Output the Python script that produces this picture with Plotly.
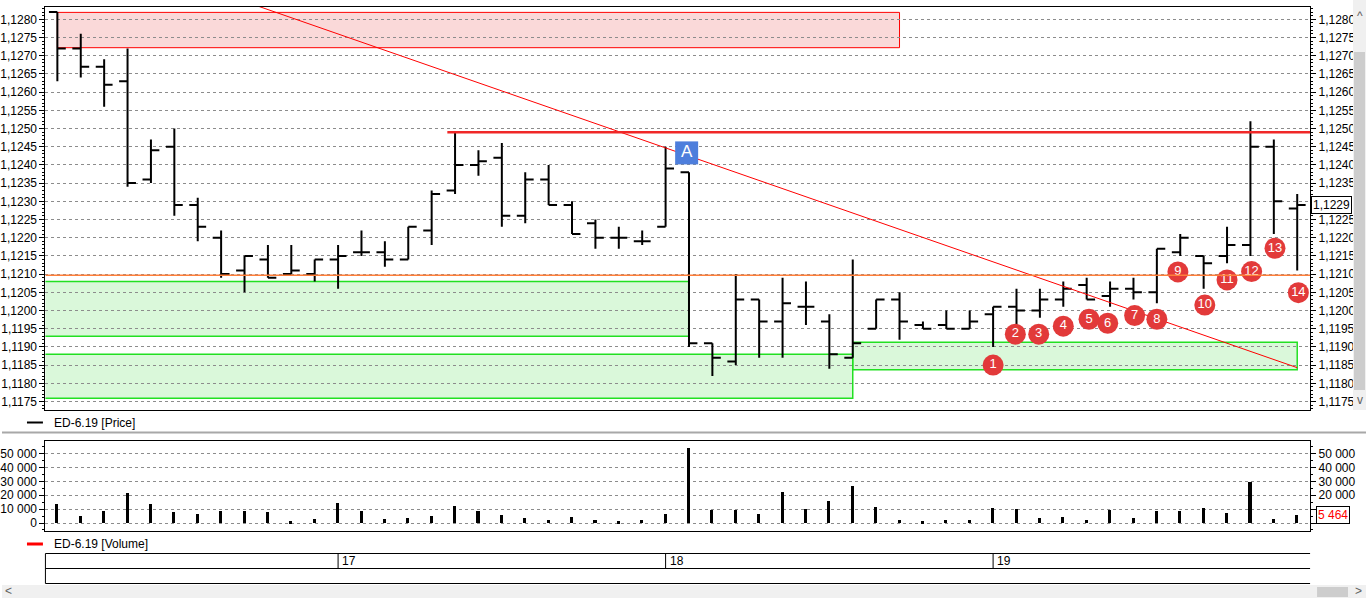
import plotly.graph_objects as go

W, H = 1366, 598

bar_idx = list(range(54))
opens = [1.1282, 1.1272, 1.1267, 1.1263, 1.1236, 1.1245, 1.1229, 1.1220, 1.1211, 1.1214,
         1.1210, 1.1210, 1.1214, 1.1216, 1.1216, 1.1214, 1.1222, 1.1233, 1.1240, 1.1242,
         1.1226, 1.1236, 1.1229, 1.1224, 1.1220, 1.1219, 1.1223, 1.1238, 1.1191, 1.1186,
         1.1203, 1.1197, 1.1201, 1.1197, 1.1187, 1.1195, 1.1203, 1.1196, 1.1196, 1.1195,
         1.1199, 1.1201, 1.1200, 1.1203, 1.1207, 1.1204, 1.1206, 1.1205, 1.1216, 1.1215,
         1.1215, 1.1218, 1.1245, 1.1228]
highs = [1.1282, 1.1276, 1.1269, 1.1272, 1.1247, 1.1250, 1.1231, 1.1222, 1.1215, 1.1218,
         1.1218, 1.1214, 1.1218, 1.1222, 1.1219, 1.1223, 1.1233, 1.1249, 1.1244, 1.1246,
         1.1238, 1.1240, 1.1230, 1.1225, 1.1223, 1.1222, 1.1245, 1.1238, 1.1191, 1.1210,
         1.1203, 1.1209, 1.1208, 1.1199, 1.1214, 1.1203, 1.1205, 1.1197, 1.1200, 1.1200,
         1.1201, 1.1206, 1.1206, 1.1208, 1.1209, 1.1208, 1.1209, 1.1217, 1.1221, 1.1215,
         1.1223, 1.1252, 1.1247, 1.1232]
lows = [1.1263, 1.1264, 1.1256, 1.1234, 1.1235, 1.1226, 1.1219, 1.1209, 1.1205, 1.1209,
        1.1210, 1.1208, 1.1206, 1.1215, 1.1212, 1.1214, 1.1218, 1.1232, 1.1237, 1.1223,
        1.1224, 1.1229, 1.1221, 1.1217, 1.1217, 1.1218, 1.1223, 1.1190, 1.1182, 1.1185,
        1.1187, 1.1187, 1.1196, 1.1184, 1.1187, 1.1195, 1.1192, 1.1195, 1.1195, 1.1195,
        1.1190, 1.1196, 1.1198, 1.1201, 1.1203, 1.1201, 1.1203, 1.1202, 1.1215, 1.1206,
        1.1213, 1.1215, 1.1221, 1.1211]
closes = [1.1272, 1.1267, 1.1262, 1.1235, 1.1244, 1.1229, 1.1223, 1.1210, 1.1215, 1.1209,
          1.1211, 1.1214, 1.1215, 1.1216, 1.1214, 1.1223, 1.1232, 1.1240, 1.1241, 1.1226,
          1.1236, 1.1229, 1.1221, 1.1220, 1.1220, 1.1219, 1.1239, 1.1191, 1.1187, 1.1203,
          1.1197, 1.1202, 1.1201, 1.1188, 1.1191, 1.1203, 1.1197, 1.1195, 1.1195, 1.1197,
          1.1201, 1.1200, 1.1203, 1.1206, 1.1203, 1.1206, 1.1205, 1.1217, 1.1220, 1.1213,
          1.1218, 1.1245, 1.1230, 1.1229]
volumes = [13600, 5000, 8600, 21400, 13600, 7900, 6400, 8600, 8600, 7900,
           1400, 2900, 14300, 8600, 2900, 3600, 5000, 12100, 8600, 5700,
           3600, 2100, 4300, 2100, 1400, 2100, 6400, 54300, 9300, 9300,
           6400, 22100, 10000, 15700, 26400, 11400, 2100, 1400, 2100, 2100,
           10700, 10000, 3600, 4300, 2100, 9300, 3600, 8600, 8600, 10700,
           7100, 29300, 2900, 5464]

price_ticks = [round(1.1175 + 0.0005 * i, 4) for i in range(22)]
volume_ticks = [0, 10000, 20000, 30000, 40000, 50000]
day_labels = ["17", "18", "19"]
day_start_bars = [12, 26, 40]

# drawing objects (in data units)
red_zone = dict(x0=0, x1=36, y0=1.12722, y1=1.12819)
green_zones = [dict(x0=-0.6, x1=27, y0=1.11929, y1=1.12080),
               dict(x0=-0.6, x1=34, y0=1.11759, y1=1.11880),
               dict(x0=34, x1=53, y0=1.11837, y1=1.11913)]
resistance_level = 1.1249
resistance_start = 16.67
orange_level = 1.12097
trend_x = [0, 53]
trend_y = [1.13028, 1.11843]
marker_a = (26.9, 1.12433)
circle_labels = [str(i) for i in range(1, 15)]
circle_x = [40, 40.95, 41.95, 43, 44.1, 44.9, 46.05, 47, 47.9, 49.05, 50, 51.05, 52.05, 53.05]
circle_y = [1.11850, 1.11935, 1.11935, 1.11957, 1.11976, 1.11965, 1.11986, 1.11976,
            1.12106, 1.12015, 1.12084, 1.12107, 1.12171, 1.12049]
last_price = 1.1229
last_volume = 5464

X_RANGE = [-0.51, 53.55]
P_RANGE = [1.117267, 1.128338]
V_RANGE = [-5740, 59040]

def px(x):
    return x / W

def py(y):
    return 1 - y / H

XD = [px(43.5), px(1310)]
PD = [py(410), py(7)]
VD = [py(531), py(441)]

FONT = "Liberation Sans"

def price_text(v):
    return ("%.4f" % v).replace(".", ",")

def vol_text(v):
    return "{:,}".format(v).replace(",", " ")

left_price_text = [price_text(v) for v in price_ticks]
# the last-price box hides the label under it on the right axis
right_price_text = ["" if abs(v - 1.1230) < 1e-9 else price_text(v) for v in price_ticks]
left_vol_text = [vol_text(v) for v in volume_ticks]
right_vol_text = ["" if v in (0, 10000) else vol_text(v) for v in volume_ticks]

fig = go.Figure()

fig.add_trace(go.Ohlc(
    x=bar_idx, open=opens, high=highs, low=lows, close=closes,
    increasing=dict(line=dict(color="black", width=2)),
    decreasing=dict(line=dict(color="black", width=2)),
    tickwidth=0.36, xaxis="x", yaxis="y", hoverinfo="skip", showlegend=False))

fig.add_trace(go.Scatter(
    x=trend_x, y=trend_y, mode="lines", line=dict(color="#FF0000", width=1),
    xaxis="x", yaxis="y", hoverinfo="skip", showlegend=False))

fig.add_trace(go.Scatter(
    x=[marker_a[0]], y=[marker_a[1]], mode="markers+text", text=["A"],
    marker=dict(symbol="square", size=23, color="#4D7EDC", line=dict(width=0)),
    textfont=dict(color="white", size=17, family=FONT), textposition="middle center",
    xaxis="x", yaxis="y", hoverinfo="skip", showlegend=False, cliponaxis=False))

fig.add_trace(go.Scatter(
    x=circle_x, y=circle_y, mode="markers+text", text=circle_labels,
    marker=dict(symbol="circle", size=21, color="#E23A3A", line=dict(width=0)),
    textfont=dict(color="white", size=13, family=FONT), textposition="middle center",
    xaxis="x", yaxis="y", hoverinfo="skip", showlegend=False, cliponaxis=False))

fig.add_trace(go.Bar(
    x=bar_idx, y=volumes, width=0.13, marker=dict(color="black", line=dict(width=0)),
    xaxis="x2", yaxis="y3", hoverinfo="skip", showlegend=False))

shapes = []
shapes.append(dict(type="rect", xref="x", yref="y", layer="below",
                   line=dict(color="#FF0000", width=1), fillcolor="rgba(240,140,140,0.33)",
                   **red_zone))
for gz in green_zones:
    shapes.append(dict(type="rect", xref="x", yref="y", layer="below",
                       line=dict(color="#22E022", width=1.5), fillcolor="rgba(150,235,150,0.35)",
                       **gz))
shapes.append(dict(type="line", xref="x", yref="y", x0=resistance_start, x1=X_RANGE[1],
                   y0=resistance_level, y1=resistance_level,
                   line=dict(color="#F02828", width=2.5)))
shapes.append(dict(type="line", xref="x", yref="y", x0=X_RANGE[0], x1=X_RANGE[1],
                   y0=orange_level, y1=orange_level, line=dict(color="#FF7F3A", width=1.5)))

# separator between panes
shapes.append(dict(type="line", xref="paper", yref="paper", x0=0, x1=1, y0=py(432.5), y1=py(432.5),
                   line=dict(color="#A8A8A8", width=2)))
# legends
shapes.append(dict(type="line", xref="paper", yref="paper", x0=px(25), x1=px(41), y0=py(422.5), y1=py(422.5),
                   line=dict(color="black", width=2)))
shapes.append(dict(type="line", xref="paper", yref="paper", x0=px(25), x1=px(41), y0=py(544), y1=py(544),
                   line=dict(color="#FF0000", width=3)))
# date strip
for yy in (553.5, 568.5, 583.5):
    shapes.append(dict(type="line", xref="paper", yref="paper", x0=px(43.5), x1=px(1310), y0=py(yy), y1=py(yy),
                       line=dict(color="black", width=1)))
shapes.append(dict(type="line", xref="paper", yref="paper", x0=px(43.5), x1=px(43.5), y0=py(553.5), y1=py(583.5),
                   line=dict(color="black", width=1)))
for b in day_start_bars:
    shapes.append(dict(type="line", xref="x", yref="paper", x0=b, x1=b, y0=py(553.5), y1=py(568.5),
                       line=dict(color="black", width=1)))
# scrollbars
shapes.append(dict(type="rect", xref="paper", yref="paper", x0=px(1353), x1=1, y0=py(410), y1=1,
                   line=dict(width=0), fillcolor="#F0F0F0"))
shapes.append(dict(type="rect", xref="paper", yref="paper", x0=px(1354), x1=px(1365), y0=py(390), y1=py(52),
                   line=dict(width=0), fillcolor="#CDCDCD"))
shapes.append(dict(type="rect", xref="paper", yref="paper", x0=0, x1=1, y0=0, y1=py(585),
                   line=dict(width=0), fillcolor="#F0F0F0"))
shapes.append(dict(type="rect", xref="paper", yref="paper", x0=px(1317), x1=px(1348), y0=py(597), y1=py(587),
                   line=dict(width=0), fillcolor="#CDCDCD"))

annotations = []
annotations.append(dict(xref="paper", yref="paper", x=px(50), y=py(422.5), text="ED-6.19 [Price]",
                        showarrow=False, xanchor="left", yanchor="middle",
                        font=dict(family=FONT, size=12, color="black")))
annotations.append(dict(xref="paper", yref="paper", x=px(50), y=py(544), text="ED-6.19 [Volume]",
                        showarrow=False, xanchor="left", yanchor="middle",
                        font=dict(family=FONT, size=12, color="black")))
for lab, b in zip(day_labels, day_start_bars):
    annotations.append(dict(xref="x", yref="paper", x=b, y=py(561), text=lab, showarrow=False,
                            xanchor="left", yanchor="middle", xshift=2,
                            font=dict(family=FONT, size=12, color="black")))
annotations.append(dict(xref="paper", yref="y", x=px(1311), y=last_price, text=price_text(last_price),
                        showarrow=False, xanchor="left", yanchor="middle",
                        bgcolor="white", bordercolor="black", borderwidth=1, borderpad=1,
                        font=dict(family=FONT, size=12, color="black")))
annotations.append(dict(xref="paper", yref="y3", x=px(1316), y=last_volume, text=vol_text(last_volume),
                        showarrow=False, xanchor="left", yanchor="middle",
                        bgcolor="white", bordercolor="black", borderwidth=1, borderpad=1,
                        font=dict(family=FONT, size=12, color="#FF0000")))
for txt, xx, yy in (("^", 1360, 16), ("v", 1360, 400), ("<", 7, 591), (">", 1358, 591)):
    annotations.append(dict(xref="paper", yref="paper", x=px(xx), y=py(yy), text=txt, showarrow=False,
                            xanchor="center", yanchor="middle",
                            font=dict(family=FONT, size=12, color="#606060")))

grid_common = dict(gridcolor="#8C8C8C", griddash="3px,3px", gridwidth=1)
tickfont = dict(family=FONT, size=12, color="black")

fig.update_layout(
    width=W, height=H, margin=dict(l=0, r=0, t=0, b=0),
    paper_bgcolor="white", plot_bgcolor="white",
    showlegend=False, bargap=0,
    font=dict(family=FONT, size=12, color="black"),
    xaxis=dict(domain=XD, range=X_RANGE, anchor="y", showgrid=False, showticklabels=False,
               ticks="", showline=True, linecolor="black", linewidth=1, mirror=True,
               zeroline=False, rangeslider=dict(visible=False), fixedrange=True),
    yaxis=dict(domain=PD, range=P_RANGE, anchor="x", side="left", tickvals=price_ticks,
               ticktext=left_price_text, ticks="outside", ticklen=5, tickcolor="black",
               showline=True, linecolor="black", linewidth=1, zeroline=False,
               showgrid=True, tickfont=tickfont,
               minor=dict(dtick=0.0001, tick0=1.1175, ticks="outside", ticklen=2,
                          tickcolor="black", showgrid=False), **grid_common),
    yaxis2=dict(overlaying="y", range=P_RANGE, anchor="x", side="right", tickvals=price_ticks,
                ticktext=right_price_text, ticks="outside", ticklen=5, tickcolor="black",
                showline=True, linecolor="black", linewidth=1, zeroline=False,
                showgrid=False, tickfont=tickfont,
                minor=dict(dtick=0.0001, tick0=1.1175, ticks="outside", ticklen=2,
                           tickcolor="black", showgrid=False)),
    xaxis2=dict(domain=XD, range=X_RANGE, anchor="y3", showgrid=False, showticklabels=False,
                ticks="", showline=True, linecolor="black", linewidth=1, mirror=True,
                zeroline=False, matches="x"),
    yaxis3=dict(domain=VD, range=V_RANGE, anchor="x2", side="left", tickvals=volume_ticks,
                ticktext=left_vol_text, ticks="outside", ticklen=5, tickcolor="black",
                showline=True, linecolor="black", linewidth=1, zeroline=False,
                showgrid=True, tickfont=tickfont,
                minor=dict(dtick=5000, tick0=0, ticks="outside", ticklen=2,
                           tickcolor="black", showgrid=False), **grid_common),
    yaxis4=dict(overlaying="y3", range=V_RANGE, anchor="x2", side="right", tickvals=volume_ticks,
                ticktext=right_vol_text, ticks="outside", ticklen=5, tickcolor="black",
                showline=True, linecolor="black", linewidth=1, zeroline=False,
                showgrid=False, tickfont=tickfont,
                minor=dict(dtick=5000, tick0=0, ticks="outside", ticklen=2,
                           tickcolor="black", showgrid=False)),
    shapes=shapes, annotations=annotations,
)

# invisible traces so that right-side axes render
fig.add_trace(go.Scatter(x=[None], y=[None], xaxis="x", yaxis="y2", showlegend=False, hoverinfo="skip"))
fig.add_trace(go.Scatter(x=[None], y=[None], xaxis="x2", yaxis="y4", showlegend=False, hoverinfo="skip"))

fig.write_html("out.html")
